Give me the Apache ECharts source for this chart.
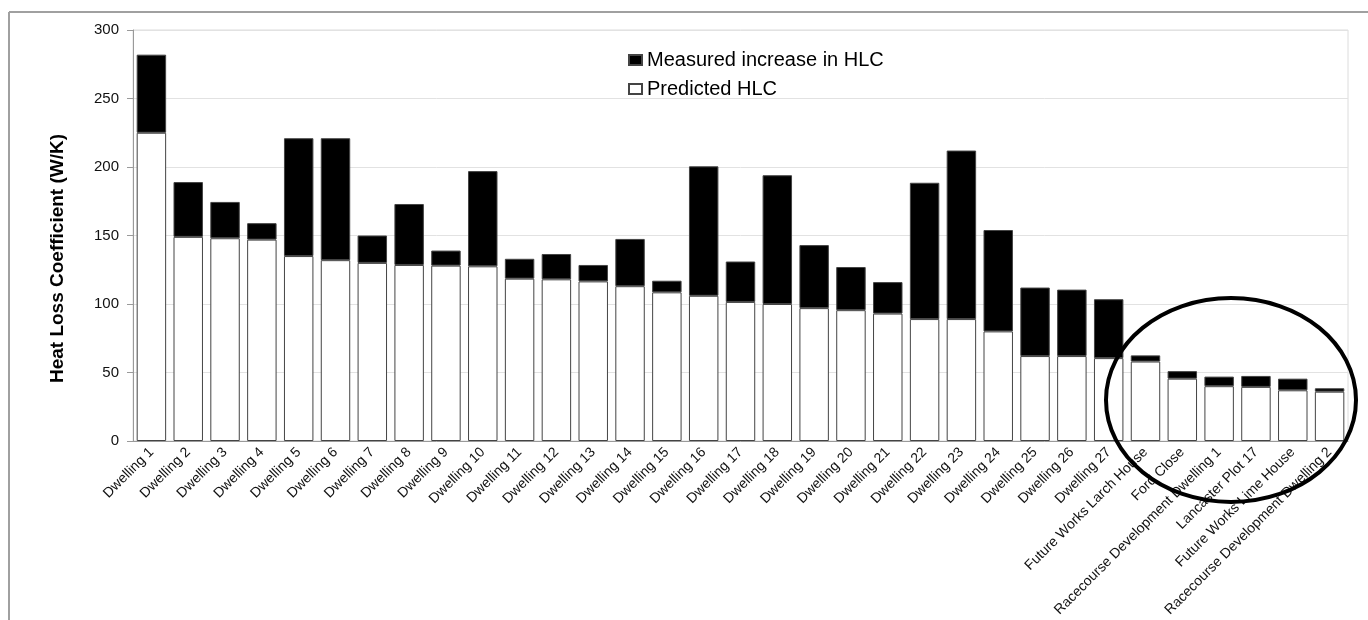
<!DOCTYPE html>
<html>
<head>
<meta charset="utf-8">
<title>Heat Loss Coefficient</title>
<script src="https://cdn.jsdelivr.net/npm/echarts/dist/echarts.min.js"></script>
<style>
  html, body { margin: 0; padding: 0; background: #fff; }
  #hlc { width: 1368px; height: 620px; }
</style>
</head>
<body>
<div id="hlc"></div>
<script>
// dwellings, sorted by predicted HLC
let dwellings = [
  'Dwelling 1', 'Dwelling 2', 'Dwelling 3', 'Dwelling 4', 'Dwelling 5', 'Dwelling 6',
  'Dwelling 7', 'Dwelling 8', 'Dwelling 9', 'Dwelling 10', 'Dwelling 11', 'Dwelling 12',
  'Dwelling 13', 'Dwelling 14', 'Dwelling 15', 'Dwelling 16', 'Dwelling 17', 'Dwelling 18',
  'Dwelling 19', 'Dwelling 20', 'Dwelling 21', 'Dwelling 22', 'Dwelling 23', 'Dwelling 24',
  'Dwelling 25', 'Dwelling 26', 'Dwelling 27',
  'Future Works Larch House', 'Ford Close', 'Racecourse Development Dwelling 1',
  'Lancaster Plot 17', 'Future Works Lime House', 'Racecourse Development Dwelling 2'
]

// W/K
let predictedHLC = [
  225, 149, 148, 147, 135, 132, 130, 128.5, 128, 127.5, 118.5, 118,
  116.5, 113, 108.5, 106, 101.5, 100, 97, 95.5, 93, 89, 89, 80,
  62, 62, 60.5, 58, 45.5, 40, 39.5, 37, 36
]
let measuredIncrease = [
  57, 40, 26.5, 12, 86, 89, 20, 44.5, 11, 69.5, 14.5, 18.5,
  12, 34.5, 8.5, 94.5, 29.5, 94, 46, 31.5, 23, 99.5, 123, 74,
  50, 48.5, 43, 4.5, 5.5, 7, 8, 8.5, 2.5
]
let yTicks = [0, 50, 100, 150, 200, 250, 300]

let font = "'Liberation Sans', Arial, sans-serif"
let myEchart = echarts.init(document.getElementById('hlc'))

myEchart.setOption({
  animation: false,
  textStyle: {fontFamily: font},
  grid: {
    left: 133, right: 20, top: 30, bottom: 179,
    show: true, borderColor: '#dcdcdc', borderWidth: 1
  },
  legend: {
    orient: 'vertical',
    left: 623,
    top: 45,
    icon: 'rect',
    itemWidth: 13,
    itemHeight: 10,
    itemGap: 9,
    textStyle: {fontSize: 20, color: '#000', fontFamily: font},
    data: ['Measured increase in HLC', 'Predicted HLC']
  },
  xAxis: {
    type: 'category',
    data: dwellings,
    axisLine: {lineStyle: {color: '#9a9a9a'}},
    axisTick: {length: 5, lineStyle: {color: '#9a9a9a'}},
    axisLabel: {
      interval: 0,
      rotate: 45,
      margin: 9,
      fontSize: 14,
      color: '#111',
      fontFamily: font
    }
  },
  yAxis: {
    type: 'value',
    min: yTicks[0],
    max: yTicks[yTicks.length - 1],
    interval: 50,
    name: 'Heat Loss Coefficient (W/K)',
    nameLocation: 'middle',
    nameGap: 66,
    nameTextStyle: {
      fontSize: 19, fontWeight: 'bold', color: '#000', fontFamily: font,
      padding: [0, 46, 0, 0]
    },
    axisLine: {show: true, lineStyle: {color: '#9a9a9a'}},
    axisTick: {show: true, length: 6, lineStyle: {color: '#9a9a9a'}},
    axisLabel: {fontSize: 15, color: '#111', margin: 14, fontFamily: font},
    splitLine: {lineStyle: {color: '#e2e2e2'}}
  },
  series: [
    {
      name: 'Predicted HLC',
      type: 'bar',
      stack: 'hlc',
      barCategoryGap: '20%',
      itemStyle: {color: '#fff', borderColor: '#444', borderWidth: 1},
      data: predictedHLC
    },
    {
      name: 'Measured increase in HLC',
      type: 'bar',
      stack: 'hlc',
      barCategoryGap: '20%',
      itemStyle: {color: '#000', borderColor: '#444', borderWidth: 1},
      data: measuredIncrease
    }
  ],
  graphic: [
    // outer frame (top and left edges)
    {type: 'line', shape: {x1: 9, y1: 12, x2: 1368, y2: 12}, style: {stroke: '#a0a0a0', lineWidth: 2}},
    {type: 'line', shape: {x1: 9, y1: 12, x2: 9, y2: 620}, style: {stroke: '#a0a0a0', lineWidth: 2}},
    // highlight ring round the new houses
    {
      type: 'ellipse',
      z: 100,
      shape: {cx: 1231, cy: 400, rx: 125, ry: 102},
      style: {fill: null, stroke: '#000', lineWidth: 4}
    }
  ]
})
</script>
</body>
</html>
